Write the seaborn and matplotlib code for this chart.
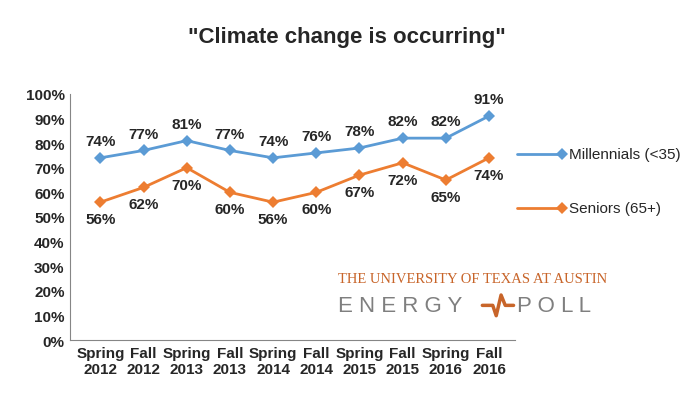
import pandas as pd
import matplotlib.pyplot as plt
import seaborn as sns

periods = ["Spring\n2012", "Fall\n2012", "Spring\n2013", "Fall\n2013", "Spring\n2014",
           "Fall\n2014", "Spring\n2015", "Fall\n2015", "Spring\n2016", "Fall\n2016"]
millennials = [74, 77, 81, 77, 74, 76, 78, 82, 82, 91]
seniors = [56, 62, 70, 60, 56, 60, 67, 72, 65, 74]

sns.set_style("white")
plt.rcParams['font.family'] = ['Liberation Sans', 'DejaVu Sans']

df = pd.DataFrame({"x": list(range(10)) * 2,
                   "value": millennials + seniors,
                   "group": ["Millennials (<35)"] * 10 + ["Seniors (65+)"] * 10})

fig = plt.figure(figsize=(6.94, 4.14), dpi=100)
ax = fig.add_axes([0.101, 0.176, 0.641, 0.595])
palette = {"Millennials (<35)": "#5b9bd5", "Seniors (65+)": "#ed7d31"}
sns.lineplot(data=df, x="x", y="value", hue="group", palette=palette,
             marker="D", markersize=6, markeredgewidth=0, linewidth=2, ax=ax, legend=False)

for i, v in enumerate(millennials):
    ax.text(i, v + 4, f"{v}%", ha="center", va="bottom", fontsize=11, fontweight="bold")
for i, v in enumerate(seniors):
    ax.text(i, v - 4, f"{v}%", ha="center", va="top", fontsize=11, fontweight="bold")

ax.set_xlim(-0.7, 9.6)
ax.set_ylim(0, 100)
ax.set_yticks(range(0, 101, 10))
ax.set_yticklabels([f"{t}%" for t in range(0, 101, 10)], fontsize=11, fontweight="bold")
ax.set_xticks(range(10))
ax.set_xticklabels(periods, fontsize=11, fontweight="bold")
ax.set_xlabel("")
ax.set_ylabel("")
ax.tick_params(axis="both", length=0, pad=4)
for s in ["top", "right"]:
    ax.spines[s].set_visible(False)
ax.spines["left"].set_color("#868686")
ax.spines["bottom"].set_color("#868686")

fig.text(0.5, 0.91, '"Climate change is occurring"', ha="center", va="center",
         fontsize=16, fontweight="bold")

# legend
for y, lab in [(0.625, "Millennials (<35)"), (0.495, "Seniors (65+)")]:
    fig.lines.append(plt.Line2D([0.745, 0.81], [y, y], color=palette[lab], lw=2,
                                marker="D", markersize=6, markevery=[1],
                                markeredgewidth=0, transform=fig.transFigure))
    fig.text(0.82, y, lab, va="center", fontsize=11)

# logo
fig.text(0.487, 0.325, "THE UNIVERSITY OF TEXAS AT AUSTIN", fontsize=10.5,
         color="#c8652a", family="Liberation Serif", va="center")
fig.text(0.487, 0.26, "E N E R G Y", fontsize=16, color="#7f7f7f", va="center")
fig.text(0.745, 0.26, "P O L L", fontsize=16, color="#7f7f7f", va="center")
fig.lines.append(plt.Line2D([0.695, 0.71, 0.715, 0.722, 0.728, 0.74],
                            [0.26, 0.26, 0.235, 0.285, 0.26, 0.26],
                            color="#c8652a", lw=2.5, transform=fig.transFigure))

fig.savefig("out.png", dpi=100)
